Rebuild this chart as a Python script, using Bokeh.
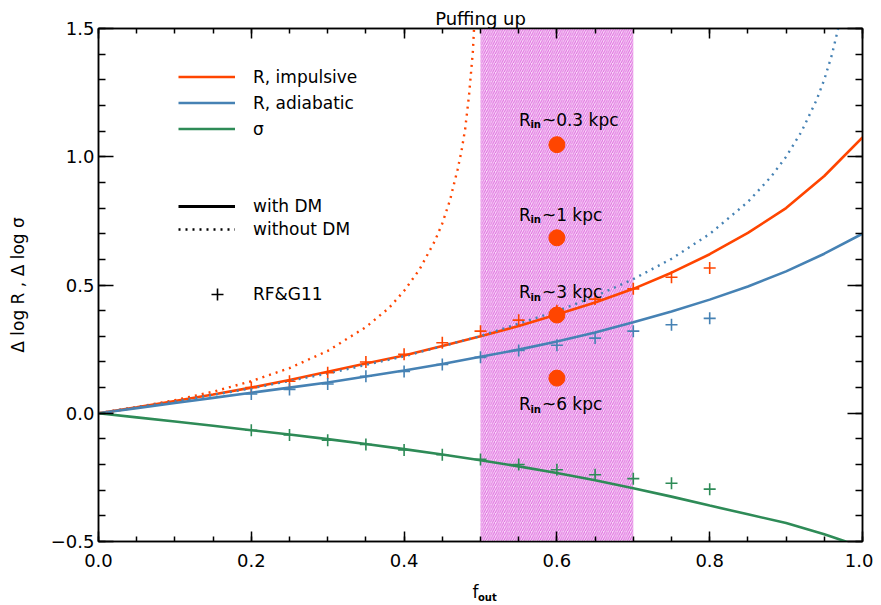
from bokeh.plotting import figure
from bokeh.embed import file_html
from bokeh.resources import INLINE
from bokeh.models import (Range1d, LinearAxis, SingleIntervalTicker, FixedTicker,
                          CustomJSTickFormatter, Legend, LegendItem, ColumnDataSource)
from bokeh.core.properties import value

# ---------------- data ----------------
f_grid = [0.00, 0.05, 0.10, 0.15, 0.20, 0.25, 0.30, 0.35, 0.40, 0.45, 0.50,
          0.55, 0.60, 0.65, 0.70, 0.75, 0.80, 0.85, 0.90, 0.95, 1.00]
r_impulsive_dm = [0.0, 0.023, 0.048, 0.073, 0.100, 0.130, 0.162, 0.194, 0.225, 0.262, 0.300,
                  0.340, 0.385, 0.432, 0.485, 0.548, 0.620, 0.703, 0.800, 0.925, 1.075]
r_adiabatic_dm = [0.0, 0.020, 0.040, 0.060, 0.080, 0.100, 0.120, 0.143, 0.167, 0.192, 0.220,
                  0.248, 0.280, 0.315, 0.355, 0.397, 0.443, 0.494, 0.553, 0.622, 0.700]
sigma_dm = [0.0, -0.016, -0.032, -0.049, -0.066, -0.083, -0.101, -0.120, -0.140, -0.161, -0.183,
            -0.207, -0.233, -0.261, -0.292, -0.325, -0.360, -0.394, -0.428, -0.472, -0.522]

f_imp_nodm = [0.00, 0.05, 0.10, 0.15, 0.20, 0.25, 0.30, 0.35, 0.38, 0.40, 0.42, 0.44,
              0.45, 0.46, 0.47, 0.475, 0.48, 0.485, 0.49, 0.495]
r_impulsive_nodm = [0.0, 0.024, 0.051, 0.084, 0.125, 0.176, 0.243, 0.336, 0.41, 0.477, 0.56, 0.67,
                    0.74, 0.83, 0.95, 1.02, 1.11, 1.24, 1.41, 1.70]
f_adi_nodm = [0.00, 0.10, 0.20, 0.30, 0.40, 0.50, 0.60, 0.65, 0.70, 0.75, 0.80, 0.85,
              0.88, 0.90, 0.92, 0.94, 0.95, 0.96, 0.97, 0.98]
r_adiabatic_nodm = [0.0, 0.046, 0.097, 0.155, 0.222, 0.301, 0.398, 0.456, 0.523, 0.602, 0.699, 0.824,
                    0.921, 1.0, 1.097, 1.222, 1.301, 1.398, 1.523, 1.70]

f_rf = [0.20, 0.25, 0.30, 0.35, 0.40, 0.45, 0.50, 0.55, 0.60, 0.65, 0.70, 0.75, 0.80]
rf_impulsive = [0.100, 0.125, 0.158, 0.200, 0.230, 0.275, 0.320, 0.363, 0.400, 0.445, 0.485, 0.530, 0.566]
rf_adiabatic = [0.075, 0.093, 0.114, 0.144, 0.163, 0.190, 0.218, 0.245, 0.265, 0.293, 0.320, 0.345, 0.370]
rf_sigma = [-0.066, -0.085, -0.105, -0.122, -0.143, -0.162, -0.180, -0.200, -0.220, -0.240, -0.255, -0.273, -0.296]

rin_f = [0.6, 0.6, 0.6, 0.6]
rin_y = [1.047, 0.684, 0.383, 0.137]
rin_text = ["~0.3 kpc", "~1 kpc", "~3 kpc", "~6 kpc"]

band_left = [0.5]
band_right = [0.7]
band_bottom = [-0.5]
band_top = [1.5]

x_start, x_end = 0.0, 1.0
y_start, y_end = -0.5, 1.5

title_text = "Puffing up"
y_label = "\u0394 log R , \u0394 log \u03c3"
x_label_main = "f"
x_label_sub = "out"
x_label_main_at = 0.4935
x_label_sub_at = 0.509

# ---------------- styling ----------------
ORANGE = "#FF4500"
BLUE = "#4682B4"
GREEN = "#2E8B57"
FONT = "DejaVu Sans"
LW = 2.6
NAN = float("nan")

p = figure(frame_width=764, frame_height=513, output_backend="svg", toolbar_location=None,
           x_range=Range1d(x_start, x_end), y_range=Range1d(y_start, y_end),
           x_axis_location=None, y_axis_location=None,
           min_border_left=98, min_border_right=11, min_border_top=28, min_border_bottom=56)
p.grid.visible = False
p.outline_line_color = "black"
p.outline_line_width = 1.5
p.background_fill_color = "white"

p.title.text = title_text
p.title.align = "center"
p.title.text_font = FONT
p.title.text_font_size = "18px"
p.title.text_font_style = "normal"
p.title.text_color = "black"
p.title.standoff = 0
p.title.offset = 0

fmt = CustomJSTickFormatter(code="return tick.toFixed(1).replace('-', '\u2212');")

def tick_axis(x_dir, labels):
    if x_dir:
        ax = LinearAxis(ticker=SingleIntervalTicker(interval=0.2, num_minor_ticks=4))
        ax.major_tick_in, ax.minor_tick_in = 10, 5
    else:
        ax = LinearAxis(ticker=SingleIntervalTicker(interval=0.5, num_minor_ticks=5))
        ax.major_tick_in, ax.minor_tick_in = 15, 7
    ax.major_tick_out = 0
    ax.minor_tick_out = 0
    ax.axis_line_width = 1.5
    ax.axis_line_color = "black"
    ax.major_tick_line_color = "black"
    ax.minor_tick_line_color = "black"
    ax.major_tick_line_width = 1.5
    ax.minor_tick_line_width = 1.5
    if labels:
        ax.formatter = fmt
        ax.major_label_text_font = FONT
        ax.major_label_text_font_size = "18px"
        ax.major_label_text_color = "black"
        ax.major_label_standoff = 12 if x_dir else 4
    else:
        ax.major_label_text_color = None
        ax.major_label_standoff = 0
    return ax

p.add_layout(tick_axis(True, True), "below")
p.add_layout(tick_axis(True, False), "above")
yl = tick_axis(False, True)
yl.axis_label = y_label
yl.axis_label_text_font = FONT
yl.axis_label_text_font_size = "17px"
yl.axis_label_text_font_style = "normal"
yl.axis_label_text_color = "black"
yl.axis_label_standoff = 20
p.add_layout(yl, "left")
p.add_layout(tick_axis(False, False), "right")

def text_axis(text, at, size, bold, standoff):
    # an axis with a single labelled position, used to place the x-axis title pieces
    ax = LinearAxis(ticker=FixedTicker(ticks=[at], minor_ticks=[]),
                    formatter=CustomJSTickFormatter(args=dict(t=text), code="return t;"))
    ax.axis_line_color = None
    ax.major_tick_line_color = None
    ax.minor_tick_line_color = None
    ax.major_tick_in = ax.major_tick_out = 0
    ax.minor_tick_in = ax.minor_tick_out = 0
    ax.major_label_text_font = FONT
    ax.major_label_text_font_size = size
    ax.major_label_text_font_style = "bold" if bold else "normal"
    ax.major_label_text_color = "black"
    ax.major_label_standoff = standoff
    return ax

p.add_layout(text_axis(x_label_main, x_label_main_at, "17px", False, 12), "below")
p.add_layout(text_axis(x_label_sub, x_label_sub_at, "10px", True, -13), "below")

# hatched band
p.quad(left=band_left, right=band_right, bottom=band_bottom, top=band_top,
       fill_color="#f8def8", line_color=None,
       hatch_pattern="/", hatch_color="#dc5adc", hatch_alpha=0.9,
       hatch_scale=4.5, hatch_weight=1.0)

# curves
r_imp = p.line(f_grid, r_impulsive_dm, line_color=ORANGE, line_width=LW)
r_adi = p.line(f_grid, r_adiabatic_dm, line_color=BLUE, line_width=LW)
r_sig = p.line(f_grid, sigma_dm, line_color=GREEN, line_width=LW)
p.line(f_imp_nodm, r_impulsive_nodm, line_color=ORANGE, line_width=2.4, line_dash="2 5")
p.line(f_adi_nodm, r_adiabatic_nodm, line_color=BLUE, line_width=2.4, line_dash="2 5")

# RF&G11 crosses
p.scatter(f_rf, rf_impulsive, marker="cross", size=12, line_color=ORANGE, line_width=1.6)
p.scatter(f_rf, rf_adiabatic, marker="cross", size=12, line_color=BLUE, line_width=1.6)
p.scatter(f_rf, rf_sigma, marker="cross", size=12, line_color=GREEN, line_width=1.6)

# R_in circles and labels
p.scatter(rin_f, rin_y, marker="circle", size=16, fill_color=ORANGE, line_color=ORANGE)
dy = [-25, -23, -23, 26]
src = ColumnDataSource(dict(x=rin_f, y=rin_y, rest=rin_text, R=["R"] * 4, sub=["in"] * 4,
                            dy=dy, dysub=[d + 5 for d in dy]))
p.text(x="x", y="y", text="R", source=src, x_offset=-38, y_offset="dy",
       text_font=value(FONT), text_font_size="17px", text_baseline="middle", text_align="left",
       text_color="black")
p.text(x="x", y="y", text="sub", source=src, x_offset=-26.5, y_offset="dysub",
       text_font=value(FONT), text_font_size="10px", text_font_style="bold",
       text_baseline="middle", text_align="left", text_color="black")
p.text(x="x", y="y", text="rest", source=src, x_offset=-15, y_offset="dy",
       text_font=value(FONT), text_font_size="17px", text_baseline="middle", text_align="left",
       text_color="black")

# legend-only renderers (no visible data)
d_with = p.line(x=[NAN], y=[NAN], line_color="black", line_width=2.8)
d_without = p.line(x=[NAN], y=[NAN], line_color="black", line_width=2.4, line_dash="2 5")
d_rf = p.scatter(x=[NAN], y=[NAN], marker="cross", size=12, line_color="black", line_width=1.6)

def style_legend(lg, gw, gh, standoff):
    lg.padding = 0
    lg.margin = 0
    lg.spacing = 3
    lg.glyph_width = gw
    lg.glyph_height = gh
    lg.label_height = gh
    lg.label_standoff = standoff
    lg.label_text_font = FONT
    lg.label_text_font_size = "17px"
    lg.label_text_color = "black"
    lg.background_fill_alpha = 0
    lg.border_line_alpha = 0

lg1 = Legend(items=[LegendItem(label="R, impulsive", renderers=[r_imp]),
                    LegendItem(label="R, adiabatic", renderers=[r_adi]),
                    LegendItem(label="\u03c3", renderers=[r_sig])],
             location=(80, 401))
style_legend(lg1, 57, 23, 18)
lg2 = Legend(items=[LegendItem(label="with DM", renderers=[d_with]),
                    LegendItem(label="without DM", renderers=[d_without])],
             location=(80, 302))
style_legend(lg2, 57, 20, 18)
lg3 = Legend(items=[LegendItem(label="RF&G11", renderers=[d_rf])],
             location=(104, 232))
style_legend(lg3, 30, 30, 21)
for lg in (lg1, lg2, lg3):
    p.add_layout(lg)

open("out.html", "w").write(file_html(p, INLINE))
